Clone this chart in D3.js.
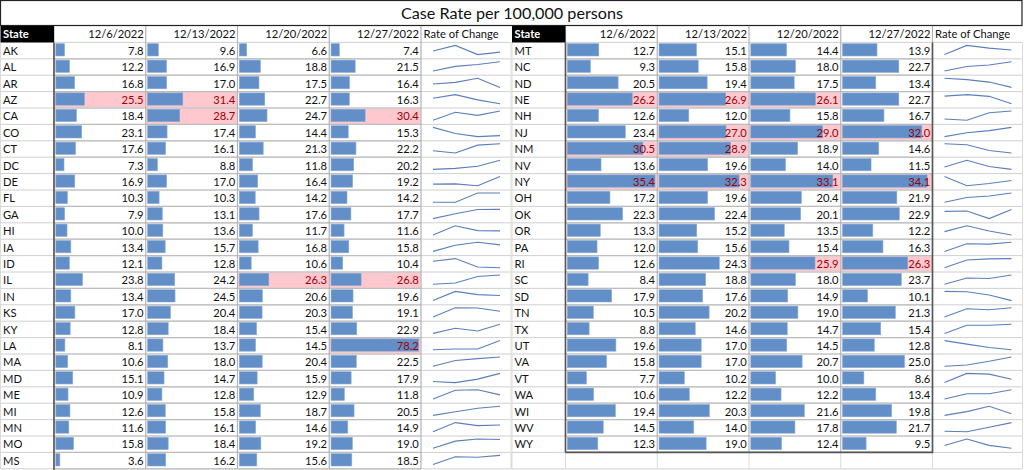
<!DOCTYPE html>
<html><head><meta charset="utf-8">
<script src="https://cdn.jsdelivr.net/npm/d3@7"></script>
<style>body{margin:0;background:#fff}svg{display:block}text{font-family:Lato,"Noto Sans",sans-serif}</style>
</head><body><svg id="c" width="1024" height="470"></svg>
<script>
const title = "Case Rate per 100,000 persons";
const dates = ["12/6/2022","12/13/2022","12/20/2022","12/27/2022"];
const leftStates = ["AK","AL","AR","AZ","CA","CO","CT","DC","DE","FL","GA","HI","IA","ID","IL","IN","KS","KY","LA","MA","MD","ME","MI","MN","MO","MS"];
const left_1206 = [7.8,12.2,16.8,25.5,18.4,23.1,17.6,7.3,16.9,10.3,7.9,10.0,13.4,12.1,23.8,13.4,17.0,12.8,8.1,10.6,15.1,10.9,12.6,11.6,15.8,3.6];
const left_1213 = [9.6,16.9,17.0,31.4,28.7,17.4,16.1,8.8,17.0,10.3,13.1,13.6,15.7,12.8,24.2,24.5,20.4,18.4,13.7,18.0,14.7,12.8,15.8,16.1,18.4,16.2];
const left_1220 = [6.6,18.8,17.5,22.7,24.7,14.4,21.3,11.8,16.4,14.2,17.6,11.7,16.8,10.6,26.3,20.6,20.3,15.4,14.5,20.4,15.9,12.9,18.7,14.6,19.2,15.6];
const left_1227 = [7.4,21.5,16.4,16.3,30.4,15.3,22.2,20.2,19.2,14.2,17.7,11.6,15.8,10.4,26.8,19.6,19.1,22.9,78.2,22.5,17.9,11.8,20.5,14.9,19.0,18.5];
const rightStates = ["MT","NC","ND","NE","NH","NJ","NM","NV","NY","OH","OK","OR","PA","RI","SC","SD","TN","TX","UT","VA","VT","WA","WI","WV","WY"];
const right_1206 = [12.7,9.3,20.5,26.2,12.6,23.4,30.5,13.6,35.4,17.2,22.3,13.3,12.0,12.6,8.4,17.9,10.5,8.8,19.6,15.8,7.7,10.6,19.4,14.5,12.3];
const right_1213 = [15.1,15.8,19.4,26.9,12.0,27.0,28.9,19.6,32.3,19.6,22.4,15.2,15.6,24.3,18.8,17.6,20.2,14.6,17.0,17.0,10.2,12.2,20.3,14.0,19.0];
const right_1220 = [14.4,18.0,17.5,26.1,15.8,29.0,18.9,14.0,33.1,20.4,20.1,13.5,15.4,25.9,18.0,14.9,19.0,14.7,14.5,20.7,10.0,12.2,21.6,17.8,12.4];
const right_1227 = [13.9,22.7,13.4,22.7,16.7,32.0,14.6,11.5,34.1,21.9,22.9,12.2,16.3,26.3,23.7,10.1,21.3,15.4,12.8,25.0,8.6,13.4,19.8,21.7,9.5];
const threshold = 25;

const svg = d3.select("#c");
const ROWH = 16.4, HEAD_TOP = 26, DATA_TOP = HEAD_TOP + ROWH;
const STATE_W = 54, COL_W = 91.75, RATE_W = 90;

svg.append("rect").attr("x",0.5).attr("y",0.5).attr("width",1021.5).attr("height",25)
  .attr("fill","#fff").attr("stroke","#222").attr("stroke-width",1.2);
svg.append("text").attr("x",512).attr("y",19).attr("text-anchor","middle")
  .attr("font-size",16.2).attr("fill","#111").text(title);

function drawTable(x0, states, cols, nRowsGrid, dark) {
  const g = svg.append("g");
  const n = states.length;
  const y = d3.scaleBand().domain(d3.range(nRowsGrid)).range([DATA_TOP, DATA_TOP + nRowsGrid*ROWH]);
  const colX = d3.scaleBand().domain(d3.range(cols.length)).range([x0+STATE_W, x0+STATE_W+COL_W*cols.length]);
  const rateX = x0 + STATE_W + COL_W*cols.length;
  const right = rateX + RATE_W;
  const bottom = DATA_TOP + nRowsGrid*ROWH;
  const maxV = d3.max(cols.flat());
  const w = d3.scaleLinear().domain([0, maxV]).range([0, COL_W - 4]);

  // pink highlight cells
  cols.forEach((vals, c) => {
    vals.forEach((v, i) => {
      if (v > threshold) g.append("rect").attr("x", colX(c)+0.5).attr("y", y(i)+0.5)
        .attr("width", COL_W-1).attr("height", ROWH-1).attr("fill","#ffc7ce");
    });
  });
  // gridlines
  const hl = d3.range(nRowsGrid+1).map(i => DATA_TOP + i*ROWH);
  g.selectAll(".hs").data([HEAD_TOP + ROWH].concat(hl.slice(1))).join("line")
    .attr("x1", x0).attr("x2", right).attr("y1", d=>d).attr("y2", d=>d)
    .attr("stroke","#d0d0d0").attr("stroke-width",1);
  g.selectAll(".hl").data(hl.slice(1, n+1)).join("line")
    .attr("x1", x0+STATE_W).attr("x2", rateX).attr("y1", d=>d).attr("y2", d=>d)
    .attr("stroke","#bdbdbd").attr("stroke-width",1.2);
  const vl = d3.range(cols.length+1).map(c => x0+STATE_W + c*COL_W);
  g.selectAll(".vl").data(vl).join("line")
    .attr("x1", d=>d).attr("x2", d=>d).attr("y1", HEAD_TOP).attr("y2", DATA_TOP + n*ROWH)
    .attr("stroke","#b3b3b3").attr("stroke-width",1.2);
  g.selectAll(".vg").data(vl.concat([x0, right])).join("line")
    .attr("x1", d=>d).attr("x2", d=>d).attr("y1", DATA_TOP + n*ROWH).attr("y2", bottom)
    .attr("stroke","#dcdcdc");
  g.append("line").attr("x1", x0+0.5).attr("x2", x0+0.5).attr("y1", DATA_TOP).attr("y2", bottom).attr("stroke","#dcdcdc");
  g.append("line").attr("x1", right).attr("x2", right).attr("y1", DATA_TOP).attr("y2", bottom).attr("stroke","#dcdcdc");

  // header
  g.append("rect").attr("x", x0+0.5).attr("y", HEAD_TOP).attr("width", STATE_W-0.5).attr("height", ROWH).attr("fill","#000");
  g.append("text").attr("x", x0+3).attr("y", HEAD_TOP+12.2).attr("font-size",11.2).attr("font-weight","bold").attr("fill","#fff").text("State");
  g.selectAll(".hd").data(dates).join("text")
    .attr("x", (d,i)=>colX(i)+COL_W-2).attr("y", HEAD_TOP+12.2).attr("text-anchor","end")
    .attr("font-size",11.2).attr("fill","#111").text(d=>d);
  g.append("text").attr("x", rateX+2.5).attr("y", HEAD_TOP+12.2).attr("font-size",11.2).attr("fill","#111").text("Rate of Change");

  // state labels
  g.selectAll(".st").data(states).join("text")
    .attr("x", x0+3).attr("y", (d,i)=>y(i)+12.3).attr("font-size",11.2).attr("fill","#111").text(d=>d);

  // bars and values
  cols.forEach((vals, c) => {
    g.selectAll(".b"+c).data(vals).join("rect")
      .attr("x", colX(c)+1.8).attr("y", (d,i)=>y(i)+1.3)
      .attr("width", d=>w(d)).attr("height", 12.3)
      .attr("fill","#638fc8").attr("stroke","#8aaad6").attr("stroke-width",0.6);
    g.selectAll(".v"+c).data(vals).join("text")
      .attr("x", colX(c)+COL_W-2.2).attr("y", (d,i)=>y(i)+12.3).attr("text-anchor","end")
      .attr("font-size",11.2).attr("fill", d => d > threshold ? "#9c0006" : "#111")
      .text(d=>d.toFixed(1));
  });

  // sparklines
  const sx = d3.scaleLinear().domain([0, cols.length-1]).range([rateX+12, rateX+79]);
  states.forEach((s, i) => {
    const vals = cols.map(col => col[i]);
    const sy = d3.scaleLinear().domain(d3.extent(vals)).range([y(i)+12.2, y(i)+3]);
    g.append("path").attr("d", d3.line().x((d,k)=>sx(k)).y(d=>sy(d))(vals))
      .attr("fill","none").attr("stroke","#5a7fbd").attr("stroke-width",1.1);
  });

  // dark borders
  g.append("line").attr("x1", x0+STATE_W).attr("x2", x0+STATE_W).attr("y1", DATA_TOP).attr("y2", dark ? DATA_TOP+n*ROWH : 470)
    .attr("stroke","#555").attr("stroke-width",1.6);
  if (dark) {
    const yb = DATA_TOP + n*ROWH;
    g.append("path").attr("d", `M${x0+STATE_W},${yb}H${rateX}V${DATA_TOP}`)
      .attr("fill","none").attr("stroke","#555").attr("stroke-width",1.6);
  }
}

drawTable(0, leftStates, [left_1206, left_1213, left_1220, left_1227], 26, false);
drawTable(511.5, rightStates, [right_1206, right_1213, right_1220, right_1227], 26, true);
</script></body></html>
